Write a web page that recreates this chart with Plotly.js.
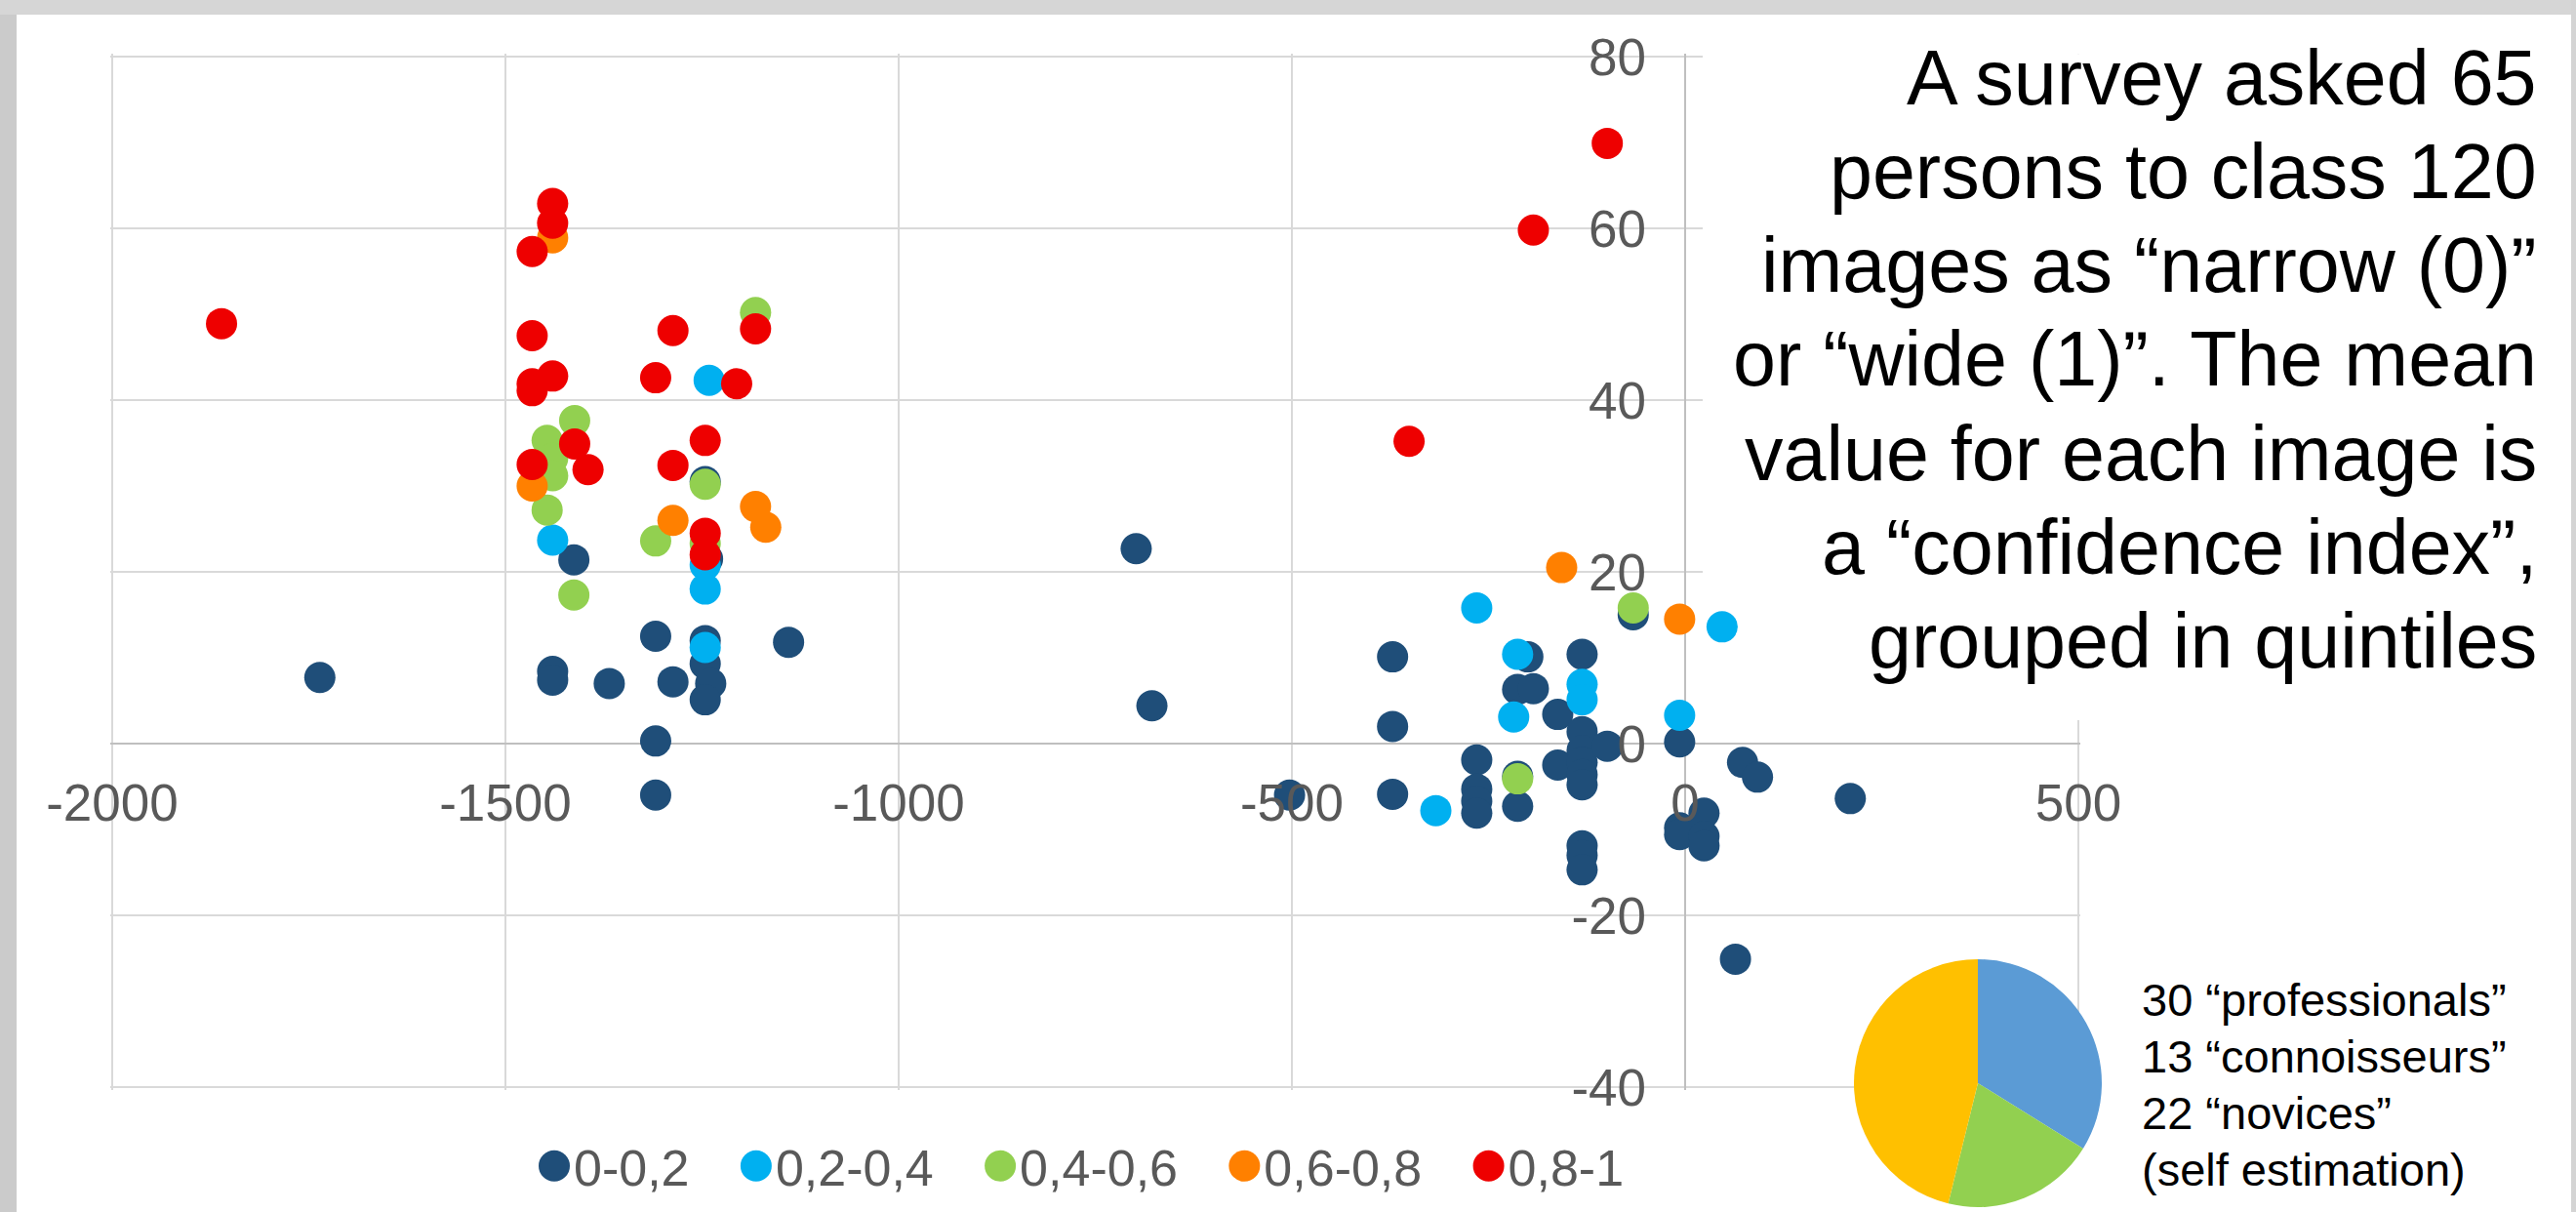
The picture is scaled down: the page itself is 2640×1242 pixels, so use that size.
<!DOCTYPE html>
<html>
<head>
<meta charset="utf-8">
<script src="https://cdn.plot.ly/plotly-3.0.1.min.js"></script>
<style>
  html, body { margin: 0; padding: 0; background: #ffffff; }
  #chart { width: 2640px; height: 1242px; }
</style>
</head>
<body>
<div id="chart"></div>
<script>
// ---------- data ----------
const seriesNames  = ['0-0,2', '0,2-0,4', '0,4-0,6', '0,6-0,8', '0,8-1'];
const seriesColors = ['#1F4E79', '#00B0F0', '#92D050', '#FF8000', '#EE0000'];

const q1x = [-1736,-1440,-1440,-1413,-1368,-1309,-1309,-1309,-1287,-1246,-1243,-1246,-1246,-1239,-1246,-1140,-698,-678,-503,-372,-372,-372,-265,-265,-265,-265,-200,-213,-193,-213,-213,-162,-162,-131,-131,-131,-131,-131,-131,-131,-131,-131,-99,-66,-7,-7,-7,24,24,24,73,92,210,64];
const q1y = [7.7,8.4,7.4,21.4,7.0,12.5,0.3,-6.0,7.2,30.5,21.5,12.0,9.3,7.0,5.1,11.8,22.7,4.4,-6.0,10.1,2.0,-5.9,-1.9,-5.3,-6.7,-8.1,10.1,6.3,6.4,-3.8,-7.3,3.4,-2.5,10.4,1.4,-0.8,-2.2,-3.6,-4.8,-11.9,-13.0,-14.7,-0.3,15.0,0.2,-9.8,-10.6,-8.1,-10.8,-11.9,-2.2,-3.9,-6.4,-25.1];

const q2x = [-1241,-1440,-1246,-1246,-1246,-265,-213,-218,-131,-131,-317,-7,47];
const q2y = [42.3,23.7,20.8,18.0,11.2,15.8,10.4,3.1,6.9,5.1,-7.8,3.3,13.6];

const q3x = [-1182,-1412,-1447,-1440,-1440,-1447,-1246,-1413,-1309,-1246,-213,-66];
const q3y = [50.2,37.6,35.3,33.2,31.2,27.2,30.2,17.3,23.6,23.3,-4.1,15.8];

const q4x = [-1440,-1466,-1182,-1169,-1287,-157,-7];
const q4y = [58.9,30.0,27.6,25.2,26.0,20.5,14.5];

const q5x = [-1861,-1440,-1440,-1466,-1466,-1287,-1182,-1466,-1466,-1440,-1309,-1206,-1412,-1466,-1395,-1287,-1246,-1246,-1246,-351,-193,-99];
const q5y = [48.9,62.9,60.6,57.3,47.5,48.1,48.3,41.9,41.1,42.8,42.6,41.9,34.9,32.5,31.9,32.4,35.3,24.5,22.0,35.2,59.8,69.9];

const xTicks     = [-2000, -1500, -1000, -500, 0, 500];
const xTickText  = ['-2000', '-1500', '-1000', '-500', '0', '500'];
const yTicks     = [-40, -20, 0, 20, 40, 60, 80];
const yTickText  = ['-40', '-20', '0', '20', '40', '60', '80'];

const pieLabels = ['novices', 'connoisseurs', 'professionals'];
const pieValues = [22, 13, 30];
const pieColors = ['#5B9BD5', '#92D050', '#FFC000'];

const noteLines = [
  'A survey asked 65',
  'persons to class 120',
  'images as \u201Cnarrow (0)\u201D',
  'or \u201Cwide (1)\u201D. The mean',
  'value for each image is',
  'a \u201Cconfidence index\u201D,',
  'grouped in quintiles'
];
const pieNoteLines = [
  '30 \u201Cprofessionals\u201D',
  '13 \u201Cconnoisseurs\u201D',
  '22 \u201Cnovices\u201D',
  '(self estimation)'
];

// ---------- layout helpers ----------
const W = 2640, H = 1242;
const FONT = '"Liberation Sans", Arial, Helvetica, sans-serif';
const px = v => v / W;
const py = v => 1 - v / H;   // top-pixel -> paper fraction

const xs = [q1x, q2x, q3x, q4x, q5x];
const ys = [q1y, q2y, q3y, q4y, q5y];

const pad = '\u00A0\u00A0\u00A0';
const traces = seriesNames.map((name, i) => ({
  type: 'scatter',
  mode: 'markers',
  name: name + pad,
  x: xs[i],
  y: ys[i],
  marker: { color: seriesColors[i], size: 32, line: { width: 0 } },
  hovertemplate: '%{x}, %{y}<extra>' + name + '</extra>'
}));

traces.push({
  type: 'pie',
  labels: pieLabels,
  values: pieValues,
  marker: { colors: pieColors, line: { width: 0 } },
  sort: false,
  direction: 'clockwise',
  rotation: 0,
  textinfo: 'none',
  showlegend: false,
  domain: { x: [px(1900), px(2154)], y: [1 - 1237 / H, 1 - 983 / H] }
});

const annotations = noteLines.map((t, i) => ({
  xref: 'paper', yref: 'paper',
  x: px(2602), xanchor: 'right',
  y: py(79 + i * 96.25), yanchor: 'middle',
  text: t, showarrow: false, align: 'right',
  font: { family: FONT, size: 79, color: '#000000' }
}));
pieNoteLines.forEach((t, i) => annotations.push({
  xref: 'paper', yref: 'paper',
  x: px(2193), xanchor: 'left',
  y: py(1024 + i * 58.33), yanchor: 'middle',
  text: t, showarrow: false, align: 'left',
  font: { family: FONT, size: 47, color: '#000000' }
}));

// plot area in pixels (range padded slightly so edge gridlines are drawn)
const X_LO = -2003, X_HI = 503, Y_LO = -40.3, Y_HI = 80.3;
const pxPerX = 0.806, pxPerY = 8.8;
const x0px = 1727 + X_LO * pxPerX, x1px = 1727 + X_HI * pxPerX;
const yTopPx = 762 - Y_HI * pxPerY, yBotPx = 762 - Y_LO * pxPerY;

const layout = {
  width: W, height: H,
  margin: { l: 0, r: 0, t: 0, b: 0, pad: 0 },
  paper_bgcolor: '#ffffff',
  plot_bgcolor: 'rgba(0,0,0,0)',
  font: { family: FONT, color: '#595959' },
  showlegend: true,
  legend: {
    orientation: 'h',
    x: px(548), xanchor: 'left',
    y: py(1195), yanchor: 'middle',
    font: { family: FONT, size: 52, color: '#595959' },
    bgcolor: 'rgba(0,0,0,0)',
    itemsizing: 'trace',
    itemclick: false, itemdoubleclick: false
  },
  xaxis: {
    domain: [px(x0px), px(x1px)],
    range: [X_LO, X_HI],
    tickvals: xTicks, ticktext: xTickText,
    ticks: '',
    showline: false,
    showgrid: true, gridcolor: '#d9d9d9', gridwidth: 2,
    zeroline: true, zerolinecolor: '#bfbfbf', zerolinewidth: 2,
    anchor: 'free', position: py(762),
    ticklabelstandoff: 25,
    tickfont: { family: FONT, size: 53, color: '#595959' },
    fixedrange: true
  },
  yaxis: {
    domain: [py(yBotPx), py(yTopPx)],
    range: [Y_LO, Y_HI],
    tickvals: yTicks, ticktext: yTickText,
    ticks: '',
    showline: false,
    showgrid: true, gridcolor: '#d9d9d9', gridwidth: 2,
    zeroline: true, zerolinecolor: '#bfbfbf', zerolinewidth: 2,
    anchor: 'free', position: px(1727),
    ticklabelstandoff: 40,
    tickfont: { family: FONT, size: 53, color: '#595959' },
    fixedrange: true
  },
  shapes: [
    // slide background strips
    { type: 'rect', xref: 'paper', yref: 'paper', x0: 0, x1: px(17), y0: 0, y1: 1,
      fillcolor: '#cbcbcb', line: { width: 0 }, layer: 'below' },
    { type: 'rect', xref: 'paper', yref: 'paper', x0: 0, x1: 1, y0: py(15), y1: 1,
      fillcolor: '#d6d6d6', line: { width: 0 }, layer: 'below' },
    { type: 'rect', xref: 'paper', yref: 'paper', x0: px(2635), x1: 1, y0: 0, y1: 1,
      fillcolor: '#d4d4d4', line: { width: 0 }, layer: 'below' },
    // white note box that hides the gridlines behind the note text
    { type: 'rect', xref: 'x', yref: 'y',
      x0: (1745 - 1727) / pxPerX, x1: X_HI + 20,
      y0: (762 - 738) / pxPerY, y1: Y_HI + 5,
      fillcolor: '#ffffff', line: { width: 0 }, layer: 'between' }
  ],
  annotations: annotations
};

const gd = document.getElementById('chart');
function bigLegendMarkers() {
  gd.querySelectorAll('.legend .legendpoints path.scatterpts').forEach(p => {
    const t = p.getAttribute('transform') || '';
    if (!/scale/.test(t)) p.setAttribute('transform', t + ' scale(2)');
  });
}
Plotly.newPlot(gd, traces, layout, { displayModeBar: false, responsive: false }).then(() => {
  bigLegendMarkers();
  gd.on('plotly_afterplot', bigLegendMarkers);
});
</script>
</body>
</html>
